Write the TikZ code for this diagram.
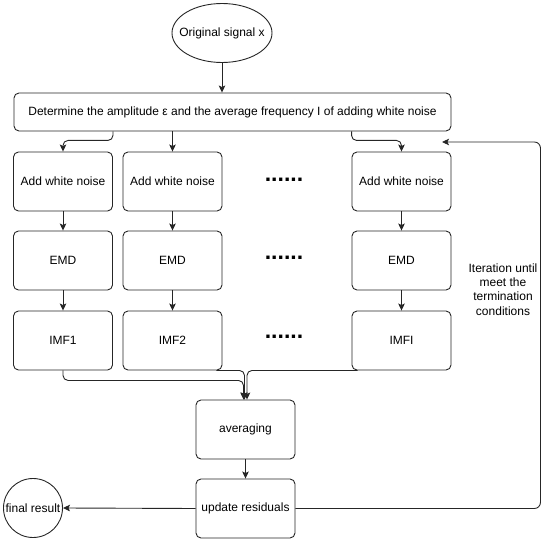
\documentclass[tikz,border=0pt]{standalone}
\usepackage{fontspec}
\setmainfont{Liberation Sans}
\usetikzlibrary{shapes.geometric,arrows.meta}
\begin{document}
\begin{tikzpicture}[x=1pt, y=-1pt, font=\fontsize{12}{14.3}\selectfont,
          >={Stealth[length=7pt,width=6.5pt,inset=1.5pt]},
          bx/.style={draw=black!85, line width=0.9pt, rounded corners=5pt, minimum width=99pt, minimum height=59pt, inner sep=2pt},
          ln/.style={draw=black!85, line width=0.9pt, ->},
          dt/.style={font=\fontsize{23}{23}\selectfont\bfseries, inner sep=0pt}]
        \useasboundingbox (0,0) rectangle (550,543);
        \node[draw=black!85, line width=0.9pt, ellipse, minimum width=100pt, minimum height=59pt, inner sep=0pt] (orig) at (222,33) {\makebox[40pt]{Original signal x}};
        \node[bx, minimum width=437pt, minimum height=38pt] (det) at (232.5,112) {Determine the amplitude ε and the average frequency I of adding white noise};
        \foreach \cx/\nm/\ix in {63/1/1, 172.5/2/2, 401.5/3/I} {
          \node[bx] (nz\nm) at (\cx,181.5) {Add white noise};
          \node[bx] (emd\nm) at (\cx,260.5) {EMD};
          \node[bx] (imf\nm) at (\cx,340.5) {IMF\ix};
          \draw[ln] (nz\nm) -- (emd\nm);
          \draw[ln] (emd\nm) -- (imf\nm);
        }
        \foreach \ry/\nm in {180/1, 258/2, 337/3} {
          \node[dt] (dots\nm) at (284,\ry) {......};
        }
        \node[bx] (avg) at (245.5,429.5) {averaging};
        \node[bx] (upd) at (245.5,508.5) {update residuals};
        \node[draw=black!85, line width=0.9pt, circle, minimum size=59pt, inner sep=0pt] (fin) at (33,508) {\makebox[50pt]{final result}};
        \node[align=center] (lbl) at (503,289.5) {Iteration until\\meet the\\termination\\conditions};
        \coordinate (back) at (442,142);
        \draw[ln] (orig.south) -- (orig.south |- det.north);
        \draw[ln, rounded corners=5pt] (nz1.east |- det.south) -- ++(0,9) -| (nz1.north);
        \draw[ln] (nz2.north |- det.south) -- (nz2.north);
        \draw[ln, rounded corners=5pt] (nz3.west |- det.south) -- ++(0,9) -| (nz3.north);
        \draw[ln, rounded corners=5pt] (imf1.south) -- ++(0,10) -| ([xshift=-2pt]avg.north);
        \draw[ln, rounded corners=5pt] ([xshift=-6pt]imf2.south east) -| ([xshift=-1pt]avg.north);
        \draw[ln, rounded corners=5pt] ([xshift=6pt]imf3.south west) -| ([xshift=1.5pt]avg.north);
        \draw[ln] (avg) -- (upd);
        \draw[ln] (upd.west) -- (fin.east);
        \draw[ln, rounded corners=6pt] (upd.east) -- ++(245,0) |- (back);
      \end{tikzpicture}
\end{document}
